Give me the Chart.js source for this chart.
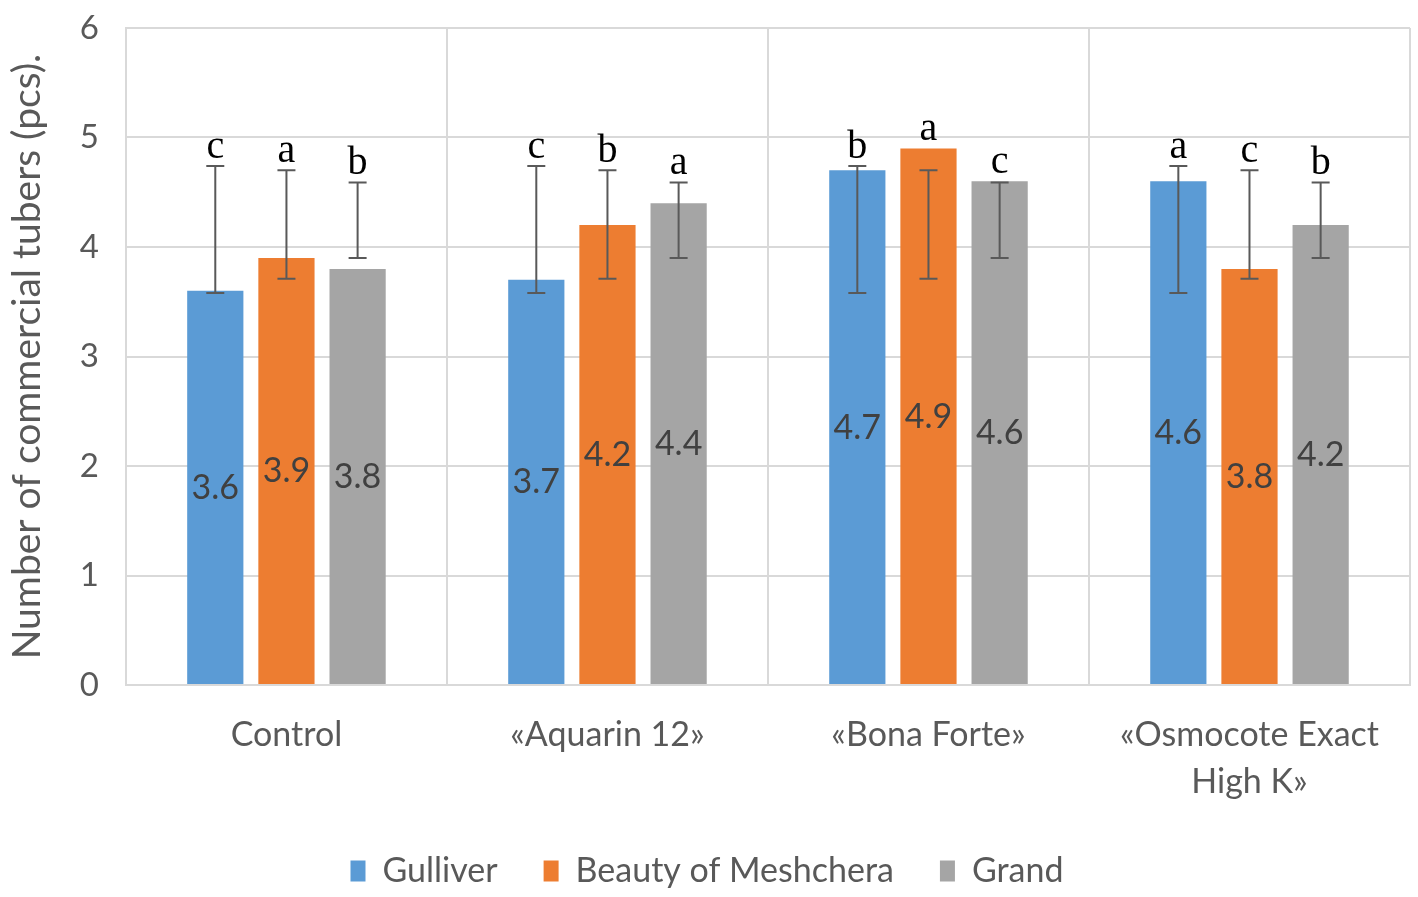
<!DOCTYPE html>
<html lang="en">
<head>
    <meta charset="UTF-8">
    <title>Number of commercial tubers</title>
    <style>
        body {
            margin: 0;
            padding: 0;
            background: #ffffff;
        }
        .chart-box {
            width: 1418px;
            height: 897px;
        }
    </style>
    <script src="https://cdn.jsdelivr.net/npm/chart.js"></script>
</head>
<body>
    <div class="chart-box">
        <canvas id="tubers"></canvas>
    </div>

    <script>
        // Chart data
        const categories = ['Control', '«Aquarin 12»', '«Bona Forte»', ['«Osmocote Exact', 'High K»']];
        const seriesNames = ['Gulliver', 'Beauty of Meshchera', 'Grand'];

        const gulliver = [3.6, 3.7, 4.7, 4.6];
        const beauty = [3.9, 4.2, 4.9, 3.8];
        const grand = [3.8, 4.4, 4.6, 4.2];

        // error bar ends (low / high) per series
        const gulliverLow = [3.58, 3.58, 3.58, 3.58];
        const gulliverHigh = [4.74, 4.74, 4.74, 4.74];
        const beautyLow = [3.71, 3.71, 3.71, 3.71];
        const beautyHigh = [4.70, 4.70, 4.70, 4.70];
        const grandLow = [3.90, 3.90, 3.90, 3.90];
        const grandHigh = [4.59, 4.59, 4.59, 4.59];

        // significance letters
        const gulliverLetters = ['c', 'c', 'b', 'a'];
        const beautyLetters = ['a', 'b', 'a', 'c'];
        const grandLetters = ['b', 'a', 'c', 'b'];

        const yTicks = [0, 1, 2, 3, 4, 5, 6];

        const colors = ['#5B9BD5', '#ED7D31', '#A5A5A5'];
        const lows = [gulliverLow, beautyLow, grandLow];
        const highs = [gulliverHigh, beautyHigh, grandHigh];
        const letters = [gulliverLetters, beautyLetters, grandLetters];

        const sansFont = "Lato, 'Open Sans', sans-serif";

        // draws error bars, letters and the value labels
        const extrasPlugin = {
            id: 'extras',
            afterDatasetsDraw(chart) {
                const ctx = chart.ctx;
                const yScale = chart.scales.y;
                chart.data.datasets.forEach((ds, i) => {
                    const meta = chart.getDatasetMeta(i);
                    meta.data.forEach((bar, j) => {
                        const x = bar.x;
                        const yLo = yScale.getPixelForValue(lows[i][j]);
                        const yHi = yScale.getPixelForValue(highs[i][j]);
                        const cap = 9;

                        ctx.save();
                        ctx.strokeStyle = '#595959';
                        ctx.lineWidth = 2;
                        ctx.beginPath();
                        ctx.moveTo(x, yLo);
                        ctx.lineTo(x, yHi);
                        ctx.moveTo(x - cap, yLo);
                        ctx.lineTo(x + cap, yLo);
                        ctx.moveTo(x - cap, yHi);
                        ctx.lineTo(x + cap, yHi);
                        ctx.stroke();

                        // value label in the middle of the bar
                        const base = yScale.getPixelForValue(0);
                        ctx.fillStyle = '#404040';
                        ctx.font = "34px " + sansFont;
                        ctx.textAlign = 'center';
                        ctx.textBaseline = 'middle';
                        ctx.fillText(ds.data[j].toFixed(1), x, (bar.y + base) / 2);

                        // letter above bar / error bar
                        const top = Math.min(bar.y, yHi);
                        ctx.fillStyle = '#000000';
                        ctx.font = "40px 'Liberation Serif', 'DejaVu Serif', serif";
                        ctx.textBaseline = 'alphabetic';
                        ctx.fillText(letters[i][j], x, top - 8);
                        ctx.restore();
                    });
                });
            }
        };

        new Chart(document.getElementById('tubers'), {
            type: 'bar',
            data: {
                labels: categories,
                datasets: [
                    { label: seriesNames[0], data: gulliver, backgroundColor: colors[0] },
                    { label: seriesNames[1], data: beauty, backgroundColor: colors[1] },
                    { label: seriesNames[2], data: grand, backgroundColor: colors[2] }
                ]
            },
            options: {
                responsive: true,
                maintainAspectRatio: false,
                animation: false,
                categoryPercentage: 0.665,
                barPercentage: 0.79,
                layout: {
                    padding: { top: 0, right: 8, left: 4, bottom: -1 }
                },
                plugins: {
                    legend: {
                        position: 'bottom',
                        labels: {
                            color: '#595959',
                            font: { family: sansFont, size: 34 },
                            boxWidth: 15,
                            boxHeight: 21,
                            padding: 46
                        }
                    },
                    tooltip: { enabled: false }
                },
                scales: {
                    x: {
                        afterFit(axis) {
                            axis.height = 123;
                        },
                        grid: {
                            color: '#d9d9d9',
                            lineWidth: 2,
                            drawTicks: false,
                            offset: true
                        },
                        border: { color: '#d9d9d9', width: 2 },
                        ticks: {
                            color: '#595959',
                            font: { family: sansFont, size: 34, lineHeight: 1.38 },
                            padding: 27,
                            maxRotation: 0
                        }
                    },
                    y: {
                        min: 0,
                        max: 6,
                        afterBuildTicks(axis) {
                            axis.ticks = yTicks.map(v => ({ value: v }));
                        },
                        afterFit(axis) {
                            // keep the top of the plot close to the canvas edge
                            axis.paddingTop = 28;
                        },
                        grid: {
                            color: '#d9d9d9',
                            lineWidth: 2,
                            drawTicks: false
                        },
                        border: { color: '#d9d9d9', width: 2 },
                        ticks: {
                            color: '#595959',
                            font: { family: sansFont, size: 33 },
                            padding: 27
                        },
                        title: {
                            display: true,
                            text: 'Number of commercial tubers (pcs).',
                            color: '#595959',
                            font: { family: sansFont, size: 39 },
                            padding: { top: 0, bottom: 2 }
                        }
                    }
                }
            },
            plugins: [extrasPlugin]
        });
    </script>
</body>
</html>
